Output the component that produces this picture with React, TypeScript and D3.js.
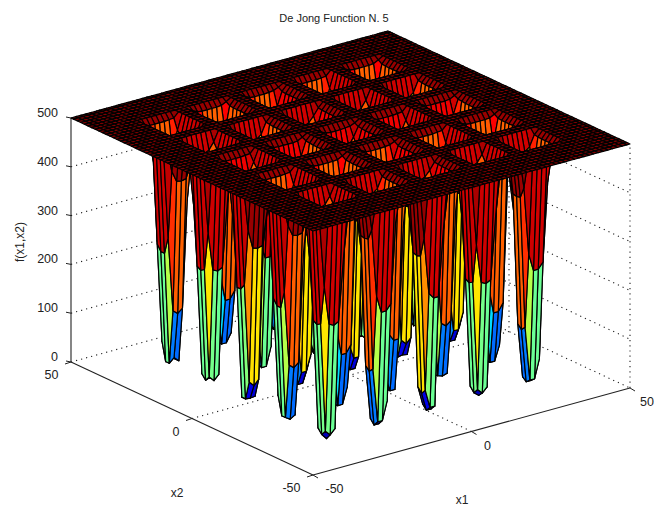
import React, { useEffect, useRef } from 'react';
import * as d3 from 'd3';

const width = 654;
const height = 508;

const zTicks = [0, 100, 200, 300, 400, 500];
const axisTicks = [-50, 0, 50];
const wellCenters = [-32, -16, 0, 16, 32];

// depth of each well floor, rows are x2 = -32..32, columns x1 = -32..32
const wellFloors = [
  [1, 2, 3, 4, 5],
  [6, 7, 8, 9, 10],
  [11, 12, 13, 14, 15],
  [16, 17, 18, 19, 20],
  [21, 22, 23, 24, 25],
];

// grid nodes around each well, as offsets from its centre
const sectionOffsets = [
  [-7.5, -6, -4.5, -3, -1.5, 0, 1.5, 3, 4.5, 6, 7.5],
  [-7, -5.5, -4, -2.5, -1, 0.5, 2, 3.5, 5, 6.5, 8],
  [-8, -6.5, -5, -3.5, -2, -0.5, 1, 2.5, 4, 5.5, 7],
  [-7.5, -6, -4.5, -3, -1.5, 0, 1.5, 3, 4.5, 6, 7.5],
  [-7, -5.5, -4, -2.5, -1, 0.5, 2, 3.5, 5, 6.5, 8],
];

// wall class at those nodes
// 0 floor, 1 tip, 2 low, 3 blue, 4 green, 5 yellow, 6 orange, 7 red, 8 deep red, 9 rim, 10 plateau
const sectionClasses = [
  [10, 10, 8, 4, 1, 0, 1, 5, 8, 10, 10],
  [10, 9, 6, 3, 0, 0, 2, 6, 9, 10, 10],
  [10, 10, 9, 5, 2, 0, 0, 5, 7, 9, 10],
  [10, 10, 8, 4, 1, 0, 1, 5, 8, 10, 10],
  [10, 9, 6, 3, 0, 0, 2, 6, 9, 10, 10],
];

const wallHeights = [
  [0, 12, 40, 115, 240, 325, 390, 445, 460, 488, 500],
  [12, 22, 50, 123, 245, 328, 392, 445, 460, 488, 500],
  [40, 50, 73, 130, 252, 329, 394, 446, 460, 488, 500],
  [115, 123, 130, 170, 276, 341, 397, 447, 462, 488, 500],
  [240, 245, 252, 276, 325, 368, 415, 451, 462, 488, 500],
  [325, 328, 329, 341, 368, 394, 422, 455, 465, 489, 500],
  [390, 392, 394, 397, 415, 422, 439, 461, 468, 489, 500],
  [445, 445, 446, 447, 451, 455, 461, 471, 476, 490, 500],
  [460, 460, 460, 462, 462, 465, 468, 476, 479, 490, 500],
  [488, 488, 488, 488, 488, 489, 489, 490, 490, 494, 500],
  [500, 500, 500, 500, 500, 500, 500, 500, 500, 500, 500],
];

const jetStops = [0, 62.5, 187.5, 312.5, 437.5, 500];
const jetColors = ['#00008f', '#0000ff', '#00ffff', '#ffff00', '#ff0000', '#800000'];

const gridX = [...d3.range(-50, 50, 1.5), 50];

// projection of the MATLAB view, left back corner of the floor is the anchor
const left = 71;
const floorY = 362;
const uX1 = d3.scaleLinear().domain([-50, 50]).range([0, 317]);
const uX2 = d3.scaleLinear().domain([-50, 50]).range([242, 0]);
const vX1 = d3.scaleLinear().domain([-50, 50]).range([0, -87]);
const vX2 = d3.scaleLinear().domain([-50, 50]).range([113, 0]);
const vZ = d3.scaleLinear().domain([0, 500]).range([0, -244]);

const project = (x1: number, x2: number, z: number): [number, number] => [
  left + uX1(x1) + uX2(x2),
  floorY + vX1(x1) + vX2(x2) + vZ(z),
];

const wellIndex = (x: number) => d3.bisectCenter(wellCenters, x);

const sectionClass = (x: number) => {
  const w = wellIndex(x);
  const k = sectionOffsets[w].indexOf(x - wellCenters[w]);
  return k < 0 ? 10 : sectionClasses[w][k];
};

const surfaceZ = (x1: number, x2: number) => {
  const cx = sectionClass(x1);
  const cy = sectionClass(x2);
  if (cx === 0 && cy === 0) return wellFloors[wellIndex(x2)][wellIndex(x1)];
  return wallHeights[cx][cy];
};

const App = () => {
  const svgRef = useRef<SVGSVGElement>(null);

  useEffect(() => {
    const svg = d3.select(svgRef.current);
    svg.selectAll('*').remove();
    const color = d3.scaleLinear<string>().domain(jetStops).range(jetColors).clamp(true);
    const line = d3.line();

    // back walls and floor grid
    const gridPaths: [number, number][][] = [];
    zTicks.forEach(z => {
      gridPaths.push([project(-50, 50, z), project(50, 50, z), project(50, -50, z)]);
    });
    gridPaths.push([project(50, 50, 0), project(50, 50, 500)]);
    gridPaths.push([project(50, -50, 0), project(50, -50, 500)]);
    gridPaths.push([project(0, -50, 0), project(0, 50, 0), project(0, 50, 500)]);
    gridPaths.push([project(-50, 0, 0), project(50, 0, 0), project(50, 0, 500)]);
    svg.append('g').selectAll('path').data(gridPaths).join('path')
      .attr('d', d => line(d))
      .attr('fill', 'none')
      .attr('stroke', '#222')
      .attr('stroke-width', 1.1)
      .attr('stroke-dasharray', '1.2 4');

    // axis lines
    const axisPaths = [
      [project(-50, 50, 0), project(-50, 50, 500)],
      [project(-50, 50, 0), project(-50, -50, 0)],
      [project(-50, -50, 0), project(50, -50, 0)],
    ];
    svg.append('g').selectAll('path').data(axisPaths).join('path')
      .attr('d', d => line(d))
      .attr('fill', 'none')
      .attr('stroke', '#222')
      .attr('stroke-width', 1.1);

    // surface, back to front, each face takes the colour of its lowest index corner
    const faces: { d: string; fill: string }[] = [];
    for (let i = gridX.length - 2; i >= 0; i--) {
      for (let j = gridX.length - 2; j >= 0; j--) {
        const a = gridX[i], b = gridX[i + 1], c = gridX[j], e = gridX[j + 1];
        const z0 = surfaceZ(a, c);
        faces.push({
          d: line([
            project(a, c, z0),
            project(b, c, surfaceZ(b, c)),
            project(b, e, surfaceZ(b, e)),
            project(a, e, surfaceZ(a, e)),
          ]) + 'Z',
          fill: color(z0),
        });
      }
    }
    svg.append('g').selectAll('path').data(faces).join('path')
      .attr('d', d => d.d)
      .attr('fill', d => d.fill)
      .attr('stroke', '#000')
      .attr('stroke-width', 1.2)
      .attr('stroke-linejoin', 'round');

    // ticks
    const tickPaths: [number, number][][] = [];
    zTicks.forEach(z => {
      const [u, v] = project(-50, 50, z);
      tickPaths.push([[u - 5, v - 1], [u, v]]);
    });
    axisTicks.forEach(t => {
      const [u1, v1] = project(t, -50, 0);
      tickPaths.push([[u1 + 5, v1 + 3], [u1, v1]]);
      const [u2, v2] = project(-50, t, 0);
      tickPaths.push([[u2 - 6, v2 + 2], [u2, v2]]);
    });
    svg.append('g').selectAll('path').data(tickPaths).join('path')
      .attr('d', d => line(d))
      .attr('fill', 'none')
      .attr('stroke', '#222')
      .attr('stroke-width', 1);

    const text = svg.append('g')
      .attr('font-family', '"Liberation Sans", Arial, sans-serif')
      .attr('font-size', 12.5)
      .attr('fill', '#222');

    text.selectAll('.z').data(zTicks).join('text')
      .attr('class', 'z')
      .attr('x', 58)
      .attr('y', d => project(-50, 50, d)[1] - 1)
      .attr('text-anchor', 'end')
      .text(d => d);

    text.selectAll('.x1').data(axisTicks).join('text')
      .attr('class', 'x1')
      .attr('x', d => Math.min(project(d, -50, 0)[0] + 12.5, 640))
      .attr('y', d => project(d, -50, 0)[1] + 18)
      .text(d => d);

    text.selectAll('.x2').data(axisTicks).join('text')
      .attr('class', 'x2')
      .attr('x', d => project(-50, d, 0)[0] - 12.5)
      .attr('y', d => project(-50, d, 0)[1] + 17)
      .attr('text-anchor', 'end')
      .text(d => d);

    text.append('text').attr('x', 334).attr('y', 22).attr('text-anchor', 'middle').attr('font-size', 11).text('De Jong Function N. 5');
    text.append('text').attr('x', 177).attr('y', 497).attr('text-anchor', 'middle').attr('font-size', 12).text('x2');
    text.append('text').attr('x', 462).attr('y', 504).attr('text-anchor', 'middle').attr('font-size', 12).text('x1');
    text.append('text').attr('transform', 'translate(24,242) rotate(-90)').attr('text-anchor', 'middle').attr('font-size', 12).text('f(x1,x2)');
  }, []);

  return (
    <svg
      ref={svgRef}
      width={width}
      height={height}
      style={{ position: 'absolute', left: 0, top: 0, background: '#fff' }}
    />
  );
};

export default App;
